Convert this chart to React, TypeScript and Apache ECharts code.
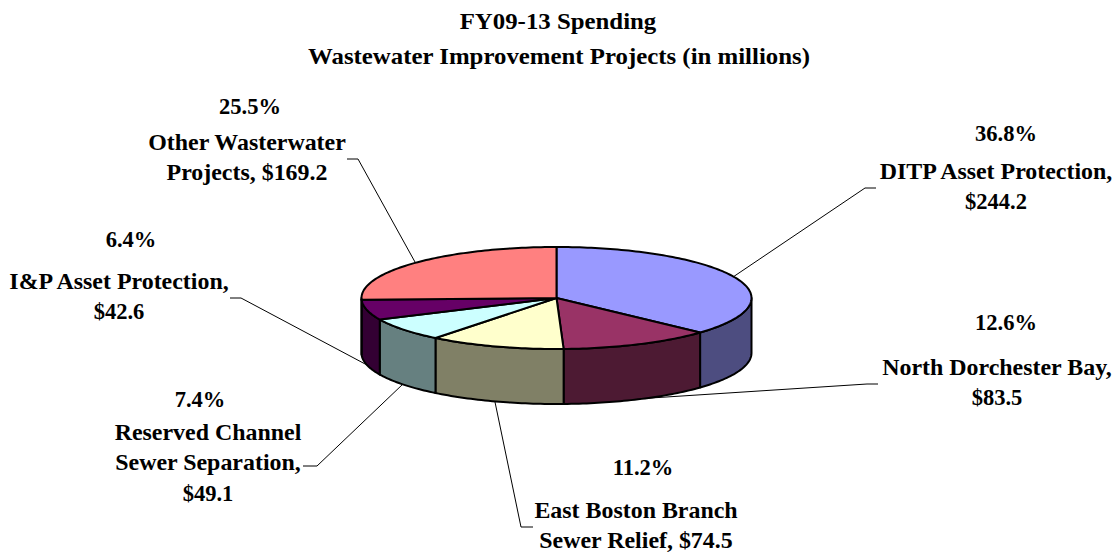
import React, { useEffect, useRef } from "react";
import * as echarts from "echarts";

const titleLines = ["FY09-13 Spending", "Wastewater Improvement Projects (in millions)"];
const names = [
  "DITP Asset Protection,",
  "North Dorchester Bay,",
  "East Boston Branch\nSewer Relief,",
  "Reserved Channel\nSewer Separation,",
  "I&P Asset Protection,",
  "Other Wasterwater\nProjects,",
];
const values = [244.2, 83.5, 74.5, 49.1, 42.6, 169.2];
const amountBreaks = ["\n", "\n", " ", "\n", "\n", " "];
const topColors = ["#9999FF", "#993366", "#FFFFCC", "#CCFFFF", "#660066", "#FF8080"];
const sideColors = ["#4D4D80", "#4D1A33", "#808066", "#668080", "#330033", "#804040"];

const FONT = '"Liberation Serif", "Times New Roman", serif';
const FONT_SIZE = 23;
const LINE_H = 30.5;
const PIE = { cx: 556.5, cy: 298, rx: 195, ry: 51, depth: 55 };

// Label placement: [percent centre x, percent centre y, label centre x, label first-line centre y]
const labelPlaces = [
  [1006, 133, 996, 171],
  [1006, 322, 997, 367],
  [643, 467, 636, 510],
  [200, 399, 208, 432],
  [131, 239, 119, 281],
  [250, 106, 247, 142],
];
const leaderPaths = [
  [[733, 277], [865, 188], [876, 188]],
  [[620, 400], [867, 384], [878, 384]],
  [[495, 402], [521, 527], [533, 527]],
  [[403, 384], [317, 466], [303, 466]],
  [[367, 365], [241, 298], [230, 298]],
  [[415, 262], [358, 159], [347, 159]],
];
const titlePlaces = [
  [558, 21],
  [559, 56],
];

const total = values.reduce((a, b) => a + b, 0);
const ranges: [number, number][] = [];
{
  let acc = 0;
  for (const v of values) {
    const s = (acc / total) * Math.PI * 2;
    acc += v;
    ranges.push([s, (acc / total) * Math.PI * 2]);
  }
}
const rimPoint = (a: number, dy = 0) => [
  PIE.cx + PIE.rx * Math.sin(a),
  PIE.cy - PIE.ry * Math.cos(a) + dy,
];
const arcPoints = (a0: number, a1: number, dy = 0) => {
  const n = Math.max(2, Math.ceil(Math.abs(a1 - a0) / 0.02));
  const pts: number[][] = [];
  for (let i = 0; i <= n; i++) pts.push(rimPoint(a0 + ((a1 - a0) * i) / n, dy));
  return pts;
};

const renderTop = (params: any) => {
  const [a0, a1] = ranges[params.dataIndex];
  return {
    type: "polygon",
    shape: { points: [[PIE.cx, PIE.cy], ...arcPoints(a0, a1)] },
    style: { fill: topColors[params.dataIndex], stroke: "#000", lineWidth: 2, lineJoin: "round" },
  };
};
const renderSide = (params: any) => {
  const [a0, a1] = ranges[params.dataIndex];
  const s = Math.max(a0, Math.PI / 2);
  const e = Math.min(a1, (Math.PI * 3) / 2);
  if (e <= s) return null;
  return {
    type: "polygon",
    shape: { points: [...arcPoints(s, e), ...arcPoints(e, s, PIE.depth)] },
    style: { fill: sideColors[params.dataIndex], stroke: "#000", lineWidth: 2, lineJoin: "round" },
  };
};

const textStyle = { font: `bold ${FONT_SIZE}px ${FONT}`, fill: "#000", align: "center", verticalAlign: "middle" };
const text = (t: string, x: number, y: number, scaleX: number) => ({
  type: "text",
  z: 5,
  x,
  y,
  scaleX,
  style: { ...textStyle, text: t },
});

export default function App() {
  const ref = useRef<HTMLDivElement>(null);
  useEffect(() => {
    document.body.style.margin = "0";
    const chart = echarts.init(ref.current!, null, { renderer: "svg" });
    const graphics: any[] = [];
    titleLines.forEach((t, i) => graphics.push(text(t, titlePlaces[i][0], titlePlaces[i][1], 1.08)));
    values.forEach((v, i) => {
      const [px, py, lx, ly] = labelPlaces[i];
      graphics.push({
        type: "polyline",
        z: 1,
        shape: { points: leaderPaths[i] },
        style: { stroke: "#000", lineWidth: 1, fill: "none" },
      });
      graphics.push(text(`${((v / total) * 100).toFixed(1)}%`, px, py, 0.98));
      const lines = `${names[i]}${amountBreaks[i]}$${v.toFixed(1)}`.split("\n");
      lines.forEach((line, k) => {
        graphics.push(text(line, lx, ly + k * LINE_H, line.startsWith("$") ? 0.98 : 1.04));
      });
    });
    chart.setOption({
      animation: false,
      backgroundColor: "#fff",
      tooltip: { show: false },
      series: [
        { type: "custom", coordinateSystem: "none", z: 3, silent: true, data: values, renderItem: renderSide },
        { type: "custom", coordinateSystem: "none", z: 4, silent: true, data: values, renderItem: renderTop },
      ],
      graphic: { elements: graphics },
    });
    return () => chart.dispose();
  }, []);
  return <div ref={ref} style={{ width: 1117, height: 555 }} />;
}
